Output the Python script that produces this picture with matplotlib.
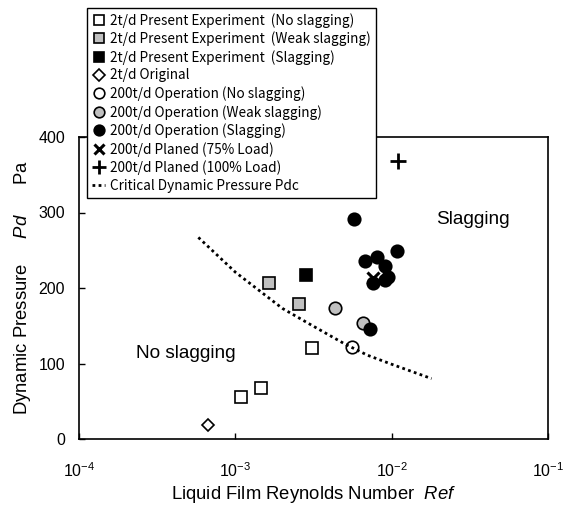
import matplotlib
matplotlib.use('Agg')
import matplotlib.pyplot as plt

plt.rcParams['font.family'] = ['Liberation Sans', 'DejaVu Sans']
plt.rcParams['mathtext.fontset'] = 'custom'
plt.rcParams['mathtext.rm'] = 'Liberation Sans'
plt.rcParams['mathtext.it'] = 'Liberation Sans:italic'

# values (Ref, Pd)
exp_no_x = [1.09e-3, 1.45e-3, 3.1e-3]
exp_no_y = [55, 67, 120]
exp_weak_x = [1.65e-3, 2.55e-3]
exp_weak_y = [207, 179]
exp_slag_x = [2.85e-3]
exp_slag_y = [217]
orig_x = [6.7e-4]
orig_y = [18]
op_no_x = [5.6e-3]
op_no_y = [122]
op_weak_x = [4.35e-3, 6.6e-3]
op_weak_y = [174, 154]
op_slag_x = [5.7e-3, 1.08e-2, 6.75e-3, 8.1e-3, 9.05e-3, 9.5e-3, 9.05e-3, 7.6e-3, 7.3e-3]
op_slag_y = [292, 249, 236, 241, 229, 215, 210, 206, 146]
plan75_x = [7.6e-3]
plan75_y = [213]
plan100_x = [1.1e-2]
plan100_y = [368]
pdc_x = [5.8e-4, 1e-3, 2e-3, 3e-3, 5e-3, 7e-3, 1e-2, 1.8e-2]
pdc_y = [267, 221, 173, 152, 126, 111, 99, 80]

gray = '#c0c0c0'
fig = plt.figure(figsize=(5.69, 5.09), dpi=100)
ax = fig.add_axes([79/569, 70/509, 469/569, 302/509])

mk = dict(linestyle='none', markeredgecolor='black', markeredgewidth=1.2)
ax.plot(exp_no_x, exp_no_y, marker='s', ms=8.5, mfc='white', label='2t/d Present Experiment  (No slagging)', **mk)
ax.plot(exp_weak_x, exp_weak_y, marker='s', ms=8.5, mfc=gray, label='2t/d Present Experiment  (Weak slagging)', **mk)
ax.plot(exp_slag_x, exp_slag_y, marker='s', ms=8.5, mfc='black', label='2t/d Present Experiment  (Slagging)', **mk)
ax.plot(orig_x, orig_y, marker='D', ms=6.6, mfc='white', label='2t/d Original', **mk)
ax.plot(op_no_x, op_no_y, marker='o', ms=9, mfc='white', label='200t/d Operation (No slagging)', **mk)
ax.plot(op_weak_x, op_weak_y, marker='o', ms=9, mfc=gray, label='200t/d Operation (Weak slagging)', **mk)
ax.plot(op_slag_x, op_slag_y, marker='o', ms=9, mfc='black', label='200t/d Operation (Slagging)', zorder=3, **mk)
ax.plot(plan75_x, plan75_y, marker='x', ms=8, color='black', mew=2.2, linestyle='none', zorder=2.5,
        label='200t/d Planed (75% Load)')
ax.plot(plan100_x, plan100_y, marker='+', ms=12, color='black', mew=2, linestyle='none',
        label='200t/d Planed (100% Load)')
ax.plot(pdc_x, pdc_y, color='black', linestyle=(0, (1, 1.2)), linewidth=2,
        label='Critical Dynamic Pressure Pdc')

ax.set_xscale('log')
ax.set_xlim(1e-4, 1e-1)
ax.set_ylim(0, 400)
ax.set_yticks([0, 100, 200, 300, 400])
ax.minorticks_off()
ax.tick_params(direction='in', length=4, width=1, labelsize=11.5)
ax.tick_params(axis='y', pad=10)
ax.tick_params(axis='x', pad=16)
for s in ax.spines.values():
    s.set_linewidth(1.2)

ax.set_xlabel('Liquid Film Reynolds Number  $\\it{Ref}$', fontsize=13.3, labelpad=3)
ax.set_ylabel('Dynamic Pressure     $\\it{Pd}$      Pa', fontsize=13.3, labelpad=4)

ax.text(136/569, 1 - 353/509, 'No slagging', transform=fig.transFigure, fontsize=13.7, va='center', ha='left')
ax.text(436/569, 1 - 219/509, 'Slagging', transform=fig.transFigure, fontsize=13.7, va='center', ha='left')

leg = fig.legend(loc='upper left', bbox_to_anchor=(87/569, 1 - 8/509), borderaxespad=0,
                 prop={'family': ['Noto Sans CJK JP', 'DejaVu Sans'], 'size': 9.8},
                 frameon=True, fancybox=False, framealpha=1, edgecolor='black',
                 handlelength=1.0, handletextpad=0.35, labelspacing=0.28, borderpad=0.35,
                 markerscale=0.85)
leg.get_frame().set_linewidth(1.0)

fig.savefig('out.png', dpi=100)
